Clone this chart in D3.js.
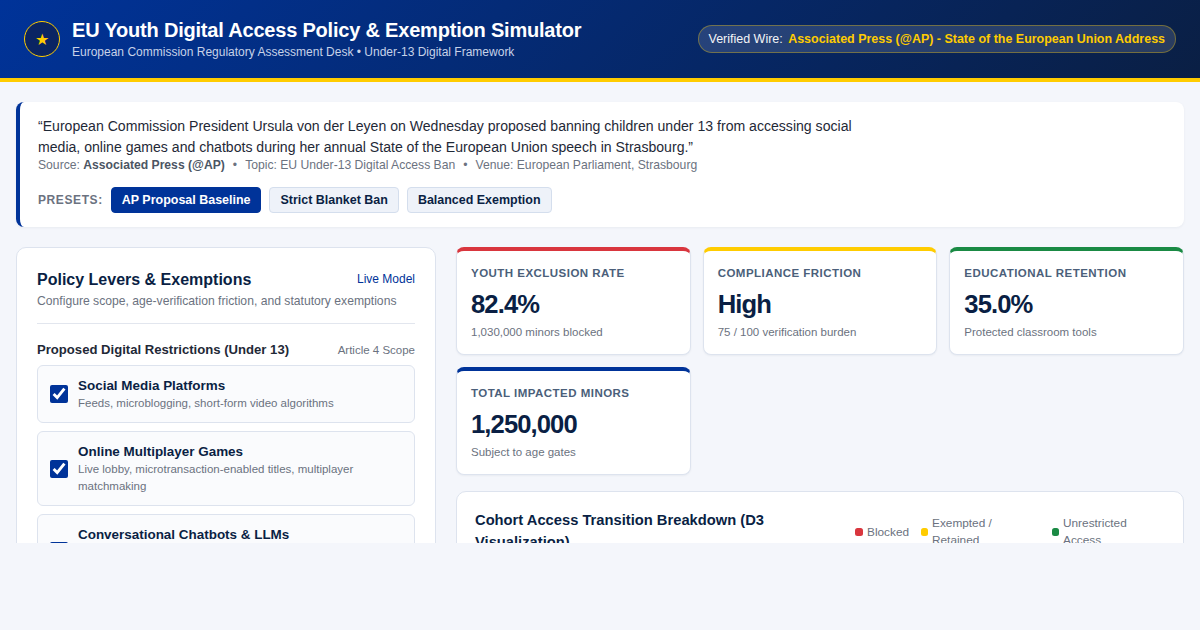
<!DOCTYPE html>
<html lang="en">
<head>
<meta charset="utf-8">
<title>EU Youth Digital Access Policy &amp; Exemption Simulator</title>
<script src="https://cdn.jsdelivr.net/npm/d3@7"></script>
<style>
* { box-sizing: border-box; }
html, body { margin: 0; width: 1200px; height: 630px; overflow: hidden; background: #f4f6fb; font-family: "Liberation Sans", Arial, sans-serif; color: #1f2937; }
header { height: 82px; border-bottom: 4px solid #ffcc00; background: linear-gradient(135deg, #003399 0%, #0a1f44 100%); display: flex; align-items: center; justify-content: space-between; padding: 0 24px; }
.brand { display: flex; align-items: center; gap: 12px; }
.logo { width: 36px; height: 36px; border-radius: 50%; border: 1.5px solid #ffcc00; background: #0a2463; color: #ffcc00; display: flex; align-items: center; justify-content: center; font-size: 16px; }
h1 { margin: 0; font-size: 20px; line-height: 26px; font-weight: 700; color: #fff; letter-spacing: -.2px; }
.sub { font-size: 12px; line-height: 18px; margin-top: 0; color: #c7d2e8; }
.wire { height: 28px; border-radius: 14px; padding: 0 10px; border: 1px solid rgba(255,204,0,.35); background: rgba(255,255,255,.13); font-size: 12.48px; line-height: 26px; color: #f3f4f6; white-space: nowrap; }
.wire b { color: #ffcc00; margin-left: 2px; }
#clip { position: absolute; left: 0; top: 82px; width: 1200px; height: 461px; overflow: hidden; }
.quote { position: absolute; left: 16px; top: 20px; width: 1168px; height: 125px; background: #fff; border-left: 4px solid #003399; border-radius: 8px; padding: 14px 18px; box-shadow: 0 1px 3px rgba(10,31,68,.05); }
.quote p { margin: 0; max-width: 850px; font-size: 14.08px; line-height: 21px; color: #1f2937; }
.meta { font-size: 12.16px; line-height: 15px; color: #6b7280; }
.meta b { color: #4b5563; }
.meta i { font-style: normal; margin: 0 8px; }
.presets { position: absolute; left: 18px; top: 85px; display: flex; align-items: center; gap: 8px; }
.presets span { font-size: 12px; font-weight: 700; letter-spacing: .6px; color: #6b7280; }
.btn { height: 26px; padding: 0 10px; border-radius: 4px; border: 1px solid #d4deed; background: #eef2f9; color: #0a1f44; font-size: 12.48px; font-weight: 700; line-height: 24px; }
.btn.on { background: #003399; border-color: #003399; color: #fff; }
.panel { position: absolute; left: 16px; top: 165px; width: 420px; height: 500px; background: #fff; border: 1px solid #dde3ee; border-radius: 10px; padding: 20px; }
.ph { display: flex; justify-content: space-between; }
h2 { margin: 0; font-size: 16px; line-height: 24px; color: #0a1f44; }
.live { font-size: 12px; color: #003399; line-height: 22px; }
.desc { font-size: 12.16px; line-height: 18px; color: #6b7280; margin-top: 0; }
hr { border: 0; border-top: 1px solid #e2e6ee; margin: 13px 0 0; }
.sec { display: flex; justify-content: space-between; align-items: baseline; margin-top: 17px; }
.sec b { font-size: 13.12px; color: #1f2937; line-height: 18px; }
.sec span { font-size: 11.5px; color: #6b7280; }
.opt { display: flex; align-items: center; gap: 10px; margin-top: 8px; padding: 10.5px 12px; border: 1px solid #dde3ee; border-radius: 6px; background: #fafbfd; }
.opt:first-of-type { margin-top: 6px; }
.opt input { width: 18px; height: 18px; margin: 0; accent-color: #003399; flex: none; }
.opt b { display: block; font-size: 13.44px; line-height: 18px; color: #0a1f44; }
.opt small { display: block; font-size: 11.5px; line-height: 17px; color: #6b7280; }
.kpi { position: absolute; height: 108px; background: #fff; border: 1px solid #dde3ee; border-top: 4px solid; border-radius: 8px; padding: 13px 14px; box-shadow: 0 1px 2px rgba(10,31,68,.05); }
.kpi .l { font-size: 11.52px; line-height: 18px; font-weight: 700; letter-spacing: .46px; color: #4b5f7a; text-transform: uppercase; }
.kpi .v { font-size: 25.6px; line-height: 32px; margin-top: 6px; font-weight: 700; color: #0a1f44; letter-spacing: -.9px; }
.kpi .s { font-size: 11.5px; line-height: 16px; margin-top: 3.5px; color: #6b7280; }
.chart { position: absolute; left: 456px; top: 409px; width: 728px; height: 300px; background: #fff; border: 1px solid #dde3ee; border-radius: 10px; padding: 18px; }
.chart h3 { position: absolute; left: 18px; top: 17px; width: 340px; margin: 0; font-size: 14.72px; line-height: 22px; color: #0a1f44; }
.leg { position: absolute; top: 0; height: 34px; display: flex; align-items: center; gap: 4px; font-size: 11.84px; line-height: 17px; color: #6b7280; }
.leg i { height: 8px; border-radius: 2.5px; flex: none; }
</style>
</head>
<body>
<header>
  <div class="brand">
    <div class="logo">★</div>
    <div><h1 id="title"></h1><div class="sub" id="subtitle"></div></div>
  </div>
  <div class="wire" id="wire"></div>
</header>
<div id="clip"></div>
<script>
var title = "EU Youth Digital Access Policy & Exemption Simulator";
var subtitle = "European Commission Regulatory Assessment Desk • Under-13 Digital Framework";
var quoteText = "“European Commission President Ursula von der Leyen on Wednesday proposed banning children under 13 from accessing social media, online games and chatbots during her annual State of the European Union speech in Strasbourg.”";
var presets = ["AP Proposal Baseline", "Strict Blanket Ban", "Balanced Exemption"];

var kpiLabels = ["Youth Exclusion Rate", "Compliance Friction", "Educational Retention", "Total Impacted Minors"];
var kpiValues = ["82.4%", "High", "35.0%", "1,250,000"];
var kpiNotes = ["1,030,000 minors blocked", "75 / 100 verification burden", "Protected classroom tools", "Subject to age gates"];
var kpiColors = ["#d9363e", "#ffcc00", "#1a8a44", "#003399"];

var optNames = ["Social Media Platforms", "Online Multiplayer Games", "Conversational Chatbots & LLMs"];
var optNotes = ["Feeds, microblogging, short-form video algorithms", "Live lobby, microtransaction-enabled titles, multiplayer matchmaking", ""];

var legendNames = ["Blocked", "Exempted / Retained", "Unrestricted Access"];
var legendColors = ["#d9363e", "#ffcc00", "#1a8a44"];

d3.select("#title").text(title);
d3.select("#subtitle").text(subtitle);
d3.select("#wire").text("Verified Wire: ").append("b").text(" Associated Press (@AP) - State of the European Union Address");

var clip = d3.select("#clip");

// quote + presets
var quote = clip.append("div").attr("class", "quote");
quote.append("p").text(quoteText);
var meta = quote.append("div").attr("class", "meta");
meta.append("span").text("Source: ");
meta.append("b").text("Associated Press (@AP)");
meta.append("i").text("•");
meta.append("span").text("Topic: EU Under-13 Digital Access Ban");
meta.append("i").text("•");
meta.append("span").text("Venue: European Parliament, Strasbourg");
var bar = quote.append("div").attr("class", "presets");
bar.append("span").text("PRESETS:");
bar.selectAll(".btn").data(presets).enter().append("div")
	.attr("class", function(d, i) { return i === 0 ? "btn on" : "btn"; })
	.text(function(d) { return d; });

// left panel
var panel = clip.append("div").attr("class", "panel");
var ph = panel.append("div").attr("class", "ph");
ph.append("h2").text("Policy Levers & Exemptions");
ph.append("div").attr("class", "live").text("Live Model");
panel.append("div").attr("class", "desc").text("Configure scope, age-verification friction, and statutory exemptions");
panel.append("hr");
var sec = panel.append("div").attr("class", "sec");
sec.append("b").text("Proposed Digital Restrictions (Under 13)");
sec.append("span").text("Article 4 Scope");
var opts = panel.selectAll(".opt").data(optNames).enter().append("label").attr("class", "opt");
opts.append("input").attr("type", "checkbox").property("checked", true);
var optText = opts.append("div");
optText.append("b").text(function(d) { return d; });
// third note falls below the fold, it only holds the row height
optText.append("small")
	.style("min-height", function(d, i) { return optNotes[i] ? null : "33px"; })
	.text(function(d, i) { return optNotes[i]; });

// kpi cards
var xCard = d3.scaleBand().domain(d3.range(3)).range([456, 1184]).paddingInner(12 / 246.667);
clip.selectAll(".kpi").data(kpiLabels).enter().append("div")
	.attr("class", "kpi")
	.style("left", function(d, i) { return xCard(i % 3) + "px"; })
	.style("top", function(d, i) { return (165 + Math.floor(i / 3) * 120) + "px"; })
	.style("width", xCard.bandwidth() + "px")
	.style("border-top-color", function(d, i) { return kpiColors[i]; })
	.each(function(d, i) {
		var card = d3.select(this);
		card.append("div").attr("class", "l").text(d);
		card.append("div").attr("class", "v").text(kpiValues[i]);
		card.append("div").attr("class", "s").text(kpiNotes[i]);
	});

// chart card, only title and legend are visible above the fold
var chart = clip.append("div").attr("class", "chart");
chart.append("h3").text("Cohort Access Transition Breakdown (D3 Visualization)");
var legendX = [398, 464, 595];
var legendW = [70, 110, 112];
var swatchW = [8, 7, 7];
chart.selectAll(".leg").data(legendNames).enter().append("div")
	.attr("class", "leg")
	.style("left", function(d, i) { return legendX[i] + "px"; })
	.style("width", function(d, i) { return legendW[i] + "px"; })
	.style("top", "23px")
	.each(function(d, i) {
		var row = d3.select(this);
		row.append("i").style("background", legendColors[i]).style("width", swatchW[i] + "px");
		row.append("span").text(d);
	});
</script>
</body>
</html>
